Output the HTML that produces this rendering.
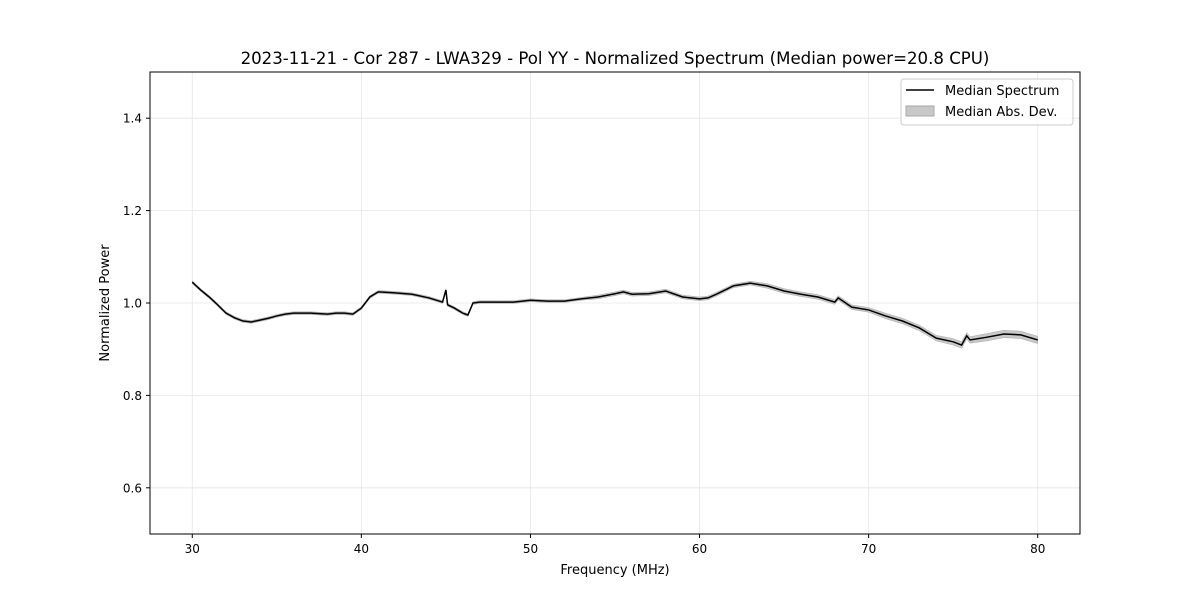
<!DOCTYPE html>
<html><head><meta charset="utf-8"><style>
body{margin:0;background:#fff;font-family:"Liberation Sans","DejaVu Sans",sans-serif}
svg text{font-family:"DejaVu Sans","Liberation Sans",sans-serif}
</style></head><body>
<svg id="chart" width="1200" height="600" viewBox="0 0 1200 600">
<rect width="1200" height="600" fill="#fff"/>
<text x="615" y="64" font-size="16.6" text-anchor="middle">2023-11-21 - Cor 287 - LWA329 - Pol YY - Normalized Spectrum (Median power=20.8 CPU)</text>
<g id="grid"></g><g id="band"></g><g id="line"></g><g id="ticks"></g>
<rect x="150" y="72" width="930" height="462" fill="none" stroke="#000" stroke-width="1"/>
<text x="615" y="574" font-size="13" text-anchor="middle">Frequency (MHz)</text>
<text transform="translate(109,303) rotate(-90)" font-size="13" text-anchor="middle">Normalized Power</text>
<g>
<rect x="901" y="79" width="172" height="46" rx="3" fill="#fff" fill-opacity="0.8" stroke="#ccc"/>
<line x1="906" y1="90" x2="934" y2="90" stroke="#000" stroke-width="1.5"/>
<text x="945" y="95" font-size="13">Median Spectrum</text>
<rect x="906" y="106" width="28" height="10" fill="#c8c8c8" stroke="#a8a8a8"/>
<text x="945" y="116" font-size="13">Median Abs. Dev.</text>
</g>
</svg>
<script>
const freqs=[30,30.5,31,31.5,32,32.5,33,33.5,34,34.5,35,35.5,36,37,38,38.5,39,39.5,40,40.5,41,42,43,44,44.8,45,45.1,45.5,46,46.3,46.6,47,48,49,50,51,52,53,54,55,55.5,56,57,58,59,60,60.5,61,61.5,62,63,64,65,66,67,68,68.2,69,70,71,72,73,74,75,75.5,75.8,76,77,78,79,80];
const medians=[1.045,1.028,1.013,0.996,0.978,0.968,0.961,0.959,0.963,0.967,0.972,0.976,0.978,0.978,0.976,0.978,0.978,0.976,0.989,1.013,1.024,1.022,1.019,1.011,1.002,1.028,0.996,0.989,0.978,0.974,1.0,1.002,1.002,1.002,1.006,1.004,1.004,1.009,1.013,1.02,1.024,1.019,1.02,1.026,1.013,1.009,1.011,1.019,1.028,1.037,1.043,1.037,1.026,1.019,1.013,1.002,1.011,0.991,0.985,0.972,0.961,0.946,0.924,0.916,0.909,0.929,0.92,0.926,0.933,0.931,0.92];
const mads=[0.003,0.003,0.003,0.003,0.003,0.003,0.003,0.003,0.003,0.003,0.003,0.003,0.003,0.003,0.003,0.003,0.003,0.003,0.003,0.003,0.003,0.003,0.003,0.003,0.003,0.003,0.003,0.003,0.003,0.003,0.003,0.003,0.003,0.003,0.003,0.003,0.003,0.003,0.004,0.004,0.004,0.004,0.004,0.004,0.004,0.004,0.004,0.004,0.004,0.004,0.004,0.005,0.005,0.005,0.005,0.005,0.005,0.005,0.005,0.006,0.006,0.006,0.006,0.007,0.007,0.007,0.007,0.008,0.008,0.008,0.008];
const xTicks=[30,40,50,60,70,80];
const yTicks=[0.6,0.8,1.0,1.2,1.4];
const NS='http://www.w3.org/2000/svg';
const X=v=>150+(v-27.5)*930/55;
const Y=v=>534-(v-0.5)*462;
function mk(t,a,p){const e=document.createElementNS(NS,t);for(const k in a)e.setAttribute(k,a[k]);document.getElementById(p).appendChild(e);return e;}
xTicks.forEach(t=>{
 const g=mk('line',{x1:X(t),x2:X(t),y1:72,y2:534,stroke:'#e6e6e6','stroke-width':0.8},'grid');
 
 
 mk('line',{x1:X(t),x2:X(t),y1:534,y2:538,stroke:'#000'},'ticks');
 const l=mk('text',{x:X(t),y:553,'font-size':12,'text-anchor':'middle'},'ticks');l.textContent=t;
 
 
});
yTicks.forEach(t=>{
 const g=mk('line',{x1:150,x2:1080,y1:Y(t),y2:Y(t),stroke:'#e6e6e6','stroke-width':0.8},'grid');
 
 
 mk('line',{x1:146,x2:150,y1:Y(t),y2:Y(t),stroke:'#000'},'ticks');
 const l=mk('text',{x:142,y:Y(t)+4.5,'font-size':12,'text-anchor':'end'},'ticks');l.textContent=t.toFixed(1);
 
 
});
let up=freqs.map((f,i)=>X(f)+','+Y(medians[i]+mads[i]));
let dn=freqs.map((f,i)=>X(f)+','+Y(medians[i]-mads[i])).reverse();
const b=mk('polygon',{points:up.concat(dn).join(' '),fill:'#c8c8c8',stroke:'#aaa','stroke-width':0.5},'band');


const ln=mk('polyline',{points:freqs.map((f,i)=>X(f)+','+Y(medians[i])).join(' '),fill:'none',stroke:'#000','stroke-width':1.5},'line');


</script>
</body></html>
